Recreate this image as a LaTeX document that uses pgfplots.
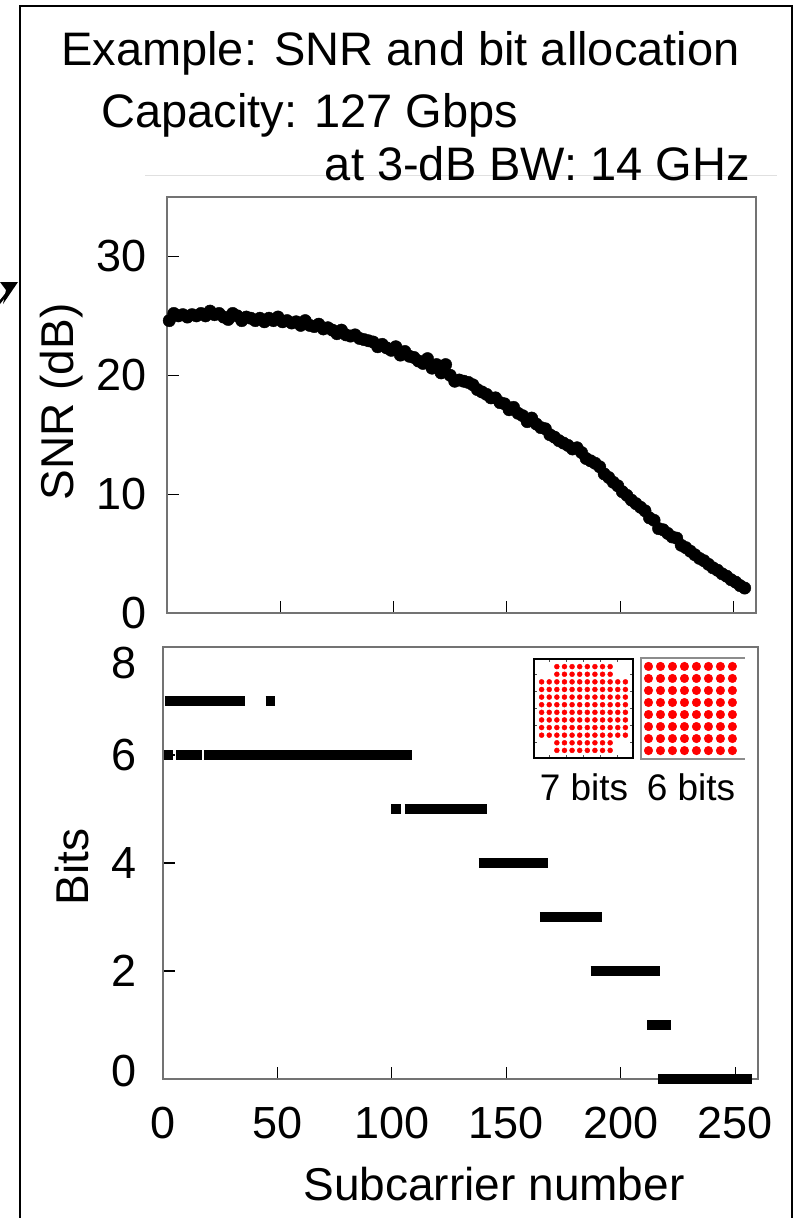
\documentclass[border=0pt]{standalone}
\usepackage{fontspec}
\setmainfont{Liberation Sans}
\usepackage{pgfplots}
\pgfplotsset{compat=1.18}

\newcommand{\titlesz}{\fontsize{47}{52}\selectfont}
\newcommand{\labelsz}{\fontsize{46}{50}\selectfont}
\newcommand{\ticksz}{\fontsize{45}{50}\selectfont}
\newcommand{\insetsz}{\fontsize{37}{40}\selectfont}

\pgfplotsset{
  panel/.style={
    scale only axis, clip=false,
    axis line style={black!55, line width=1.3pt},
    tick style={black, line width=1.1pt},
    tick align=inside, tick pos=left, major tick length=12pt,
    /pgf/number format/assume math mode=true,
    tick label style={font=\ticksz, inner sep=0pt},
  },
  qam/.style={
    scale only axis, clip=false,
    xticklabels={}, yticklabels={},
    tick style={black!70, line width=0.6pt},
    major tick length=3pt, tick align=inside,
  },
}

\begin{document}
\begin{tikzpicture}

% outer frame, arrow from the left, title lines
\draw[line width=2.5pt] (20pt,-1240pt) -- (20pt,-6pt) -- (792pt,-6pt) -- (792pt,-1240pt);
\draw[line width=2.5pt] (-8pt,-312pt) -- (8pt,-292pt);
\fill (0pt,-282pt) -- (18pt,-282pt) -- (3pt,-304pt) -- (6pt,-290pt) -- cycle;
\draw[black!12, line width=1pt] (145pt,-175pt) -- (777pt,-175pt);
\node[anchor=base west, inner sep=0pt, font=\titlesz] at (61pt,-65pt) {Example: SNR and bit allocation};
\node[anchor=base west, inner sep=0pt, font=\titlesz] at (101pt,-127pt) {Capacity: 127 Gbps};
\node[anchor=base east, inner sep=0pt, font=\titlesz] at (750pt,-180pt) {at 3-dB BW: 14 GHz};

% SNR per subcarrier
\begin{axis}[panel, at={(167pt,-197pt)}, anchor=north west,
  width=589pt, height=416pt,
  xmin=0, xmax=260, ymin=0, ymax=35,
  xtick={50,100,150,200,250}, xticklabels={},
  ytick={0,10,20,30}, yticklabel style={xshift=-20pt}]
\addplot[only marks, mark=*, mark size=6.2pt, black] coordinates {
(1,24.6)(3,25.2)(5,25.0)(7,25.1)(9,24.9)(11,25.1)(13,25.0)(15,25.2)
(17,25.0)(19,25.4)(21,25.1)(23,25.2)(25,24.9)(27,24.7)(29,25.2)(31,25.0)
(33,24.6)(35,24.9)(37,24.8)(39,24.6)(41,24.8)(43,24.5)(45,24.8)(47,24.6)
(49,24.9)(51,24.5)(53,24.6)(55,24.4)(57,24.5)(59,24.2)(61,24.6)(63,24.2)
(65,24.1)(67,24.3)(69,23.9)(71,24.0)(73,23.8)(75,23.5)(77,23.8)(79,23.4)
(81,23.3)(83,23.4)(85,23.1)(87,23.0)(89,22.9)(91,22.8)(93,22.4)(95,22.6)
(97,22.3)(99,22.1)(101,22.4)(103,21.7)(105,22.0)(107,21.6)(109,21.5)(111,21.2)
(113,21.0)(115,21.4)(117,20.6)(119,20.9)(121,20.2)(123,20.9)(125,20.0)(127,19.5)
(129,19.6)(131,19.5)(133,19.4)(135,19.2)(137,18.8)(139,18.6)(141,18.4)(143,18.1)
(145,18.1)(147,17.7)(149,17.6)(151,17.1)(153,17.3)(155,16.8)(157,16.6)(159,16.1)
(161,16.4)(163,15.9)(165,15.6)(167,15.5)(169,15.0)(171,14.8)(173,14.5)(175,14.3)
(177,14.1)(179,13.8)(181,13.9)(183,13.5)(185,13.0)(187,12.8)(189,12.6)(191,12.3)
(193,11.7)(195,11.4)(197,11.0)(199,10.7)(201,10.2)(203,9.9)(205,9.5)(207,9.2)
(209,8.9)(211,8.6)(213,8.0)(215,7.8)(217,7.1)(219,7.0)(221,6.7)(223,6.4)
(225,6.3)(227,5.7)(229,5.5)(231,5.2)(233,4.9)(235,4.6)(237,4.4)(239,4.1)
(241,3.8)(243,3.6)(245,3.3)(247,3.1)(249,2.8)(251,2.6)(253,2.3)(255,2.1)
};
\end{axis}

% bit allocation
\begin{axis}[panel, at={(163pt,-647pt)}, anchor=north west,
  width=595pt, height=432pt,
  xmin=0, xmax=260, ymin=0, ymax=8,
  xtick={0,50,100,150,200,250}, ytick={0,2,4,6,8},
  yticklabels={\smash{\raisebox{-7pt}{0}},2,4,6,\smash{\raisebox{-31pt}{8}}},
  yticklabel style={xshift=-26pt}, xticklabel style={yshift=-28pt},
  unbounded coords=jump]
\addplot[black, line width=10.5pt] coordinates {
(0.8,7)(35.8,7)(36,nan)(44.8,7)(48.8,7)(49,nan)
(0.5,6)(4.4,6)(5,nan)(5.6,6)(17.0,6)(17.4,nan)(17.9,6)(108.9,6)(109,nan)
(99.7,5)(104.0,5)(104.5,nan)(105.6,5)(141.4,5)(142,nan)
(137.9,4)(168.3,4)(169,nan)
(164.7,3)(192.0,3)(193,nan)
(186.9,2)(217.3,2)(218,nan)
(211.7,1)(222.1,1)(223,nan)
(216.5,0)(257.5,0)
};
\end{axis}

% 7-bit constellation (128-QAM)
\begin{axis}[qam, at={(534pt,-659pt)}, anchor=north west,
  width=99pt, height=99pt, xmin=-13, xmax=13, ymin=-13, ymax=13,
  axis line style={black, line width=1.2pt}, tick pos=both,
  xtick={-9,-4.5,0,4.5,9}, ytick={-9,-4.5,0,4.5,9}]
\addplot[only marks, mark=*, mark size=2.5pt, red] coordinates {
(-7,11)(-5,11)(-3,11)(-1,11)(1,11)(3,11)(5,11)(7,11)
(-7,9)(-5,9)(-3,9)(-1,9)(1,9)(3,9)(5,9)(7,9)
(-11,7)(-9,7)(-7,7)(-5,7)(-3,7)(-1,7)(1,7)(3,7)(5,7)(7,7)(9,7)(11,7)
(-11,5)(-9,5)(-7,5)(-5,5)(-3,5)(-1,5)(1,5)(3,5)(5,5)(7,5)(9,5)(11,5)
(-11,3)(-9,3)(-7,3)(-5,3)(-3,3)(-1,3)(1,3)(3,3)(5,3)(7,3)(9,3)(11,3)
(-11,1)(-9,1)(-7,1)(-5,1)(-3,1)(-1,1)(1,1)(3,1)(5,1)(7,1)(9,1)(11,1)
(-11,-1)(-9,-1)(-7,-1)(-5,-1)(-3,-1)(-1,-1)(1,-1)(3,-1)(5,-1)(7,-1)(9,-1)(11,-1)
(-11,-3)(-9,-3)(-7,-3)(-5,-3)(-3,-3)(-1,-3)(1,-3)(3,-3)(5,-3)(7,-3)(9,-3)(11,-3)
(-11,-5)(-9,-5)(-7,-5)(-5,-5)(-3,-5)(-1,-5)(1,-5)(3,-5)(5,-5)(7,-5)(9,-5)(11,-5)
(-11,-7)(-9,-7)(-7,-7)(-5,-7)(-3,-7)(-1,-7)(1,-7)(3,-7)(5,-7)(7,-7)(9,-7)(11,-7)
(-7,-9)(-5,-9)(-3,-9)(-1,-9)(1,-9)(3,-9)(5,-9)(7,-9)
(-7,-11)(-5,-11)(-3,-11)(-1,-11)(1,-11)(3,-11)(5,-11)(7,-11)
};
\end{axis}

% 6-bit constellation (64-QAM)
\begin{axis}[qam, at={(641pt,-658pt)}, anchor=north west,
  width=104pt, height=101pt, xmin=-8.25, xmax=9.1, ymin=-8.4, ymax=8.4,
  hide axis]
\draw[black!45, line width=1.2pt] (rel axis cs:1,1) -- (rel axis cs:0,1)
  -- (rel axis cs:0,0) -- (rel axis cs:1,0);
\addplot[only marks, mark=*, mark size=4.3pt, red] coordinates {
(-7,7)(-5,7)(-3,7)(-1,7)(1,7)(3,7)(5,7)(7,7)
(-7,5)(-5,5)(-3,5)(-1,5)(1,5)(3,5)(5,5)(7,5)
(-7,3)(-5,3)(-3,3)(-1,3)(1,3)(3,3)(5,3)(7,3)
(-7,1)(-5,1)(-3,1)(-1,1)(1,1)(3,1)(5,1)(7,1)
(-7,-1)(-5,-1)(-3,-1)(-1,-1)(1,-1)(3,-1)(5,-1)(7,-1)
(-7,-3)(-5,-3)(-3,-3)(-1,-3)(1,-3)(3,-3)(5,-3)(7,-3)
(-7,-5)(-5,-5)(-3,-5)(-1,-5)(1,-5)(3,-5)(5,-5)(7,-5)
(-7,-7)(-5,-7)(-3,-7)(-1,-7)(1,-7)(3,-7)(5,-7)(7,-7)
};
\end{axis}

% axis titles and inset captions
\node[rotate=90, font=\labelsz, inner sep=0pt] at (62pt,-402pt) {SNR (dB)};
\node[rotate=90, font=\labelsz, inner sep=0pt] at (72pt,-867pt) {Bits};
\node[anchor=base, font=\labelsz, inner sep=0pt] at (494pt,-1200pt) {Subcarrier number};
\node[anchor=base, font=\insetsz, inner sep=0pt] at (584pt,-800pt) {7 bits};
\node[anchor=base, font=\insetsz, inner sep=0pt] at (691pt,-800pt) {6 bits};

\pgfresetboundingbox
\path[use as bounding box] (0pt,0pt) rectangle (796pt,-1218pt);
\end{tikzpicture}
\end{document}
